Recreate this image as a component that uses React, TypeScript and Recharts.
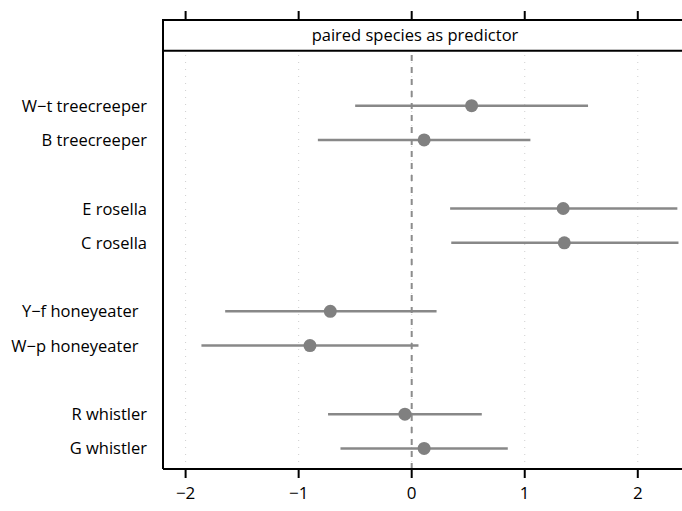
import React from 'react';
import {
  ComposedChart,
  Scatter,
  ErrorBar,
  XAxis,
  YAxis,
  CartesianGrid,
  ReferenceLine,
  ReferenceArea,
} from 'recharts';

// rows from top to bottom, empty rows separate the pairs
const species = [
  'W\u2212t treecreeper',
  'B treecreeper',
  'E rosella',
  'C rosella',
  'Y\u2212f honeyeater  ',
  'W\u2212p honeyeater  ',
  'R whistler',
  'G whistler',
];
const rowPos = [10, 9, 7, 6, 4, 3, 1, 0];
const estimate = [0.53, 0.11, 1.34, 1.35, -0.72, -0.9, -0.06, 0.11];
const lower = [-0.5, -0.83, 0.34, 0.35, -1.65, -1.86, -0.74, -0.63];
const upper = [1.56, 1.05, 2.35, 2.36, 0.22, 0.06, 0.62, 0.85];
const xTicks = [-2, -1, 0, 1, 2];

const data = species.map((name, i) => ({
  name,
  row: rowPos[i],
  est: estimate[i],
  err: [estimate[i] - lower[i], upper[i] - estimate[i]],
}));

const font = '"Open Sans", sans-serif';
const xDomain = [-2.2, 2.4];

const YTick = (props: any) => {
  const { x, y, payload } = props;
  const i = rowPos.indexOf(payload.value);
  return (
    <text
      x={x}
      y={y}
      dy={6}
      textAnchor="end"
      fontSize={16.5}
      fontFamily={font}
      fill="#000"
      style={{ whiteSpace: 'pre' }}
    >
      {species[i]}
    </text>
  );
};

const StripLabel = (props: any) => {
  const { viewBox } = props;
  return (
    <text
      x={viewBox.x + viewBox.width / 2 - 8}
      y={viewBox.y + viewBox.height / 2 + 6}
      textAnchor="middle"
      fontSize={16.5}
      fontFamily={font}
      fill="#000"
    >
      paired species as predictor
    </text>
  );
};

export default function App() {
  return (
    <div style={{ position: 'absolute', left: 0, top: 0 }}>
      <ComposedChart
        width={682}
        height={511}
        data={data}
        margin={{ top: 0, right: -1, bottom: 2, left: 0 }}
      >
        <CartesianGrid
          horizontal={false}
          vertical
          stroke="#cfcfcf"
          strokeDasharray="1 6"
          verticalValues={xTicks}
        />
        <XAxis
          type="number"
          dataKey="est"
          domain={xDomain}
          ticks={xTicks}
          allowDataOverflow
          height={40}
          tickSize={9}
          tickMargin={9}
          tickFormatter={(v: number) => (v < 0 ? '\u2212' + Math.abs(v) : String(v))}
          tick={{ fill: '#000', fontSize: 17, fontFamily: font }}
          axisLine={{ stroke: '#000', strokeWidth: 2 }}
          tickLine={{ stroke: '#000', strokeWidth: 2 }}
        />
        <XAxis
          xAxisId="top"
          orientation="top"
          type="number"
          dataKey="est"
          domain={xDomain}
          ticks={xTicks}
          allowDataOverflow
          height={20}
          tickSize={9}
          tickFormatter={() => ''}
          axisLine={false}
          tickLine={{ stroke: '#000', strokeWidth: 2 }}
        />
        <YAxis
          type="number"
          dataKey="row"
          domain={[-0.6, 12.5]}
          ticks={rowPos}
          allowDataOverflow
          width={163}
          tickSize={0}
          tickMargin={16}
          tick={<YTick />}
          axisLine={{ stroke: '#000', strokeWidth: 2 }}
          tickLine={false}
        />
        <ReferenceArea
          x1={-2.2}
          x2={2.4}
          y1={11.6}
          y2={12.5}
          fill="#fff"
          fillOpacity={1}
          stroke="#000"
          strokeWidth={2}
          ifOverflow="visible"
          label={<StripLabel />}
        />
        <ReferenceLine
          segment={[
            { x: 0, y: -0.6 },
            { x: 0, y: 11.6 },
          ]}
          stroke="#8c8c8c"
          strokeWidth={2}
          strokeDasharray="6 6"
        />
        {/* invisible copy so the top axis shares the bottom scale */}
        <Scatter
          xAxisId="top"
          dataKey="row"
          isAnimationActive={false}
          legendType="none"
          shape={() => <g />}
        />
        <Scatter dataKey="row" fill="#808080" isAnimationActive={false} shape={(p: any) => <circle cx={p.cx} cy={p.cy} r={6.5} fill="#808080" />}>
          <ErrorBar
            dataKey="err"
            direction="x"
            width={0}
            stroke="#888"
            strokeWidth={2.5}
          />
        </Scatter>
      </ComposedChart>
    </div>
  );
}
